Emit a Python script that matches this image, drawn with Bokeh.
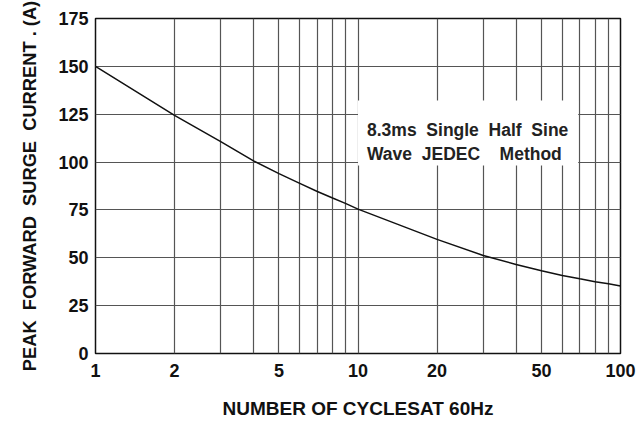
from bokeh.plotting import figure
from bokeh.models import FixedTicker, Label, BoxAnnotation, Range1d, Title
from bokeh.embed import file_html
from bokeh.resources import INLINE

# Data
cycles = [1, 2, 3, 4, 5, 6, 7, 8, 9, 10, 20, 30, 40, 50, 60, 70, 80, 90, 100]
surge_current = [150, 124.4, 110.7, 100.6, 94.0, 88.9, 84.6, 81.2, 78.3, 75.4,
                 59.6, 51.2, 46.5, 43.2, 40.8, 39.0, 37.5, 36.4, 35.3]
x_tick_values = [1, 2, 5, 10, 20, 50, 100]
x_grid_values = [1, 2, 3, 4, 5, 6, 7, 8, 9, 10, 20, 30, 40, 50, 60, 70, 80, 90, 100]
y_tick_values = [0, 25, 50, 75, 100, 125, 150, 175]
x_title = "NUMBER OF CYCLESAT 60Hz"
y_title = "PEAK\u00a0 FORWARD\u00a0 SURGE\u00a0 CURRENT . (A)"
note_line1 = "8.3ms\u00a0 Single\u00a0 Half\u00a0 Sine"
note_line2 = "Wave\u00a0 JEDEC\u00a0\u00a0\u00a0 Method"

FONT = "Liberation Sans"

p = figure(width=636, height=421, x_axis_type="log",
           x_range=Range1d(1, 100), y_range=Range1d(0, 175),
           output_backend="svg", toolbar_location=None,
           min_border_left=94, min_border_right=16,
           min_border_top=18, min_border_bottom=68)

p.line(cycles, surge_current, line_color="#111111", line_width=1.5)

p.outline_line_color = "#111111"
p.outline_line_width = 1.5

p.xaxis.ticker = FixedTicker(ticks=x_tick_values)
p.xgrid.ticker = FixedTicker(ticks=x_grid_values)
p.yaxis.ticker = FixedTicker(ticks=y_tick_values)
p.ygrid.ticker = FixedTicker(ticks=y_tick_values)
p.xaxis.major_label_overrides = {v: str(v) for v in x_tick_values}

for g in (p.xgrid, p.ygrid):
    g.grid_line_color = "#555555"
    g.grid_line_width = 1.2
    g.grid_line_alpha = 1.0

for ax in (p.xaxis, p.yaxis):
    ax.axis_line_color = None
    ax.major_tick_line_color = None
    ax.minor_tick_line_color = None
    ax.major_tick_in = 0
    ax.major_tick_out = 0
    ax.minor_tick_in = 0
    ax.minor_tick_out = 0
    ax.major_label_text_font = FONT
    ax.major_label_text_font_style = "bold"
    ax.major_label_text_font_size = "18px"
    ax.major_label_text_color = "#111111"
    ax.axis_label_text_font = FONT
    ax.axis_label_text_font_style = "bold"
    ax.axis_label_text_color = "#111111"

p.xaxis.major_label_standoff = 10
p.yaxis.major_label_standoff = 7

p.xaxis.axis_label = x_title
p.xaxis.axis_label_text_font_size = "19px"
p.xaxis.axis_label_standoff = 18

# y title as a side title
p.add_layout(Title(text=y_title, align="center", standoff=32,
                   text_font=FONT, text_font_style="bold",
                   text_font_size="18.3px", text_color="#111111"), "left")

box = BoxAnnotation(left=10, right=69, bottom=98.2, top=132.2,
                    fill_color="white", fill_alpha=1.0, line_color=None)
p.add_layout(box)

for txt, yv in ((note_line1, 116.5), (note_line2, 104.0)):
    p.add_layout(Label(x=10, y=yv, x_offset=9, text=txt,
                       text_font=FONT, text_font_style="bold",
                       text_font_size="17.5px", text_color="#222222",
                       text_baseline="alphabetic", text_align="left"))

open("out.html", "w").write(file_html(p, INLINE))
